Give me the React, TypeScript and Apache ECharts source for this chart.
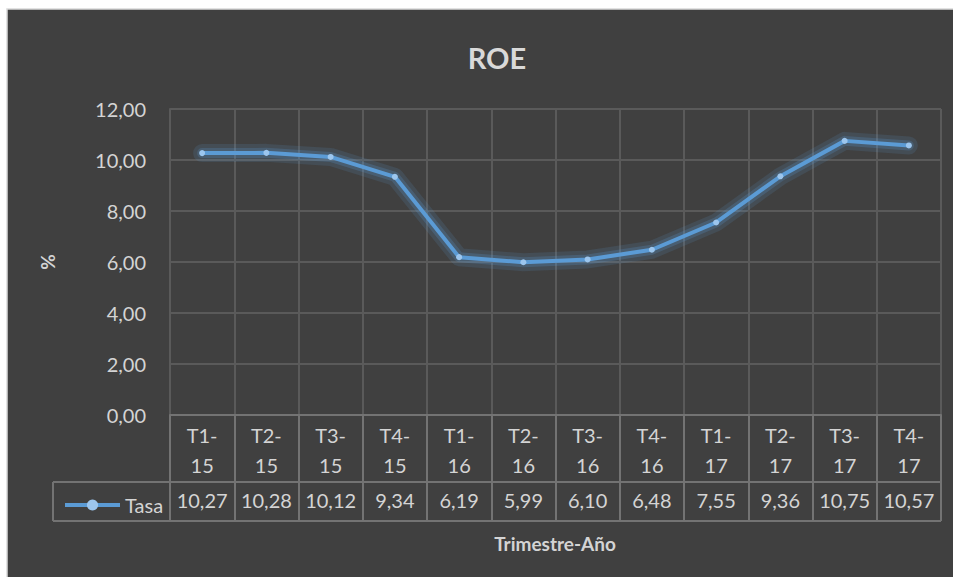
import React, { useEffect, useRef } from "react";
import * as echarts from "echarts";

const categories: string[] = ["T1-15", "T2-15", "T3-15", "T4-15", "T1-16", "T2-16", "T3-16", "T4-16", "T1-17", "T2-17", "T3-17", "T4-17"];
const seriesName = "Tasa";
const values: number[] = [10.27, 10.28, 10.12, 9.34, 6.19, 5.99, 6.1, 6.48, 7.55, 9.36, 10.75, 10.57];
const chartTitle = "ROE";
const yAxisTitle = "%";
const xAxisTitle = "Trimestre-Año";
const yMin = 0;
const yMax = 12;
const yStep = 2;

const fmt = (v: number) => v.toFixed(2).replace(".", ",");

export default function App() {
  const ref = useRef<HTMLDivElement>(null);
  useEffect(() => {
    if (!ref.current) return;
    const chart = echarts.init(ref.current, null, { renderer: "svg" });
    const font = "Lato, 'Open Sans', sans-serif";
    const txt = "#d4d4d4";
    const gridC = "#5a5a5a";
    const tableC = "#737373";
    const L = 170, R = 941, T = 109, B = 415;
    const row1 = 482, row2 = 521, legL = 53;
    const fs = 20;
    chart.setOption({
      animation: false,
      backgroundColor: "#ffffff",
      textStyle: { fontFamily: font },
      grid: { left: L, right: 953 - R, top: T, bottom: 577 - B, containLabel: false },
      legend: {
        left: 58,
        top: row1 + 8,
        itemWidth: 55,
        itemHeight: 14,
        data: [{ name: seriesName, itemStyle: { color: "#9cc6ee" } }],
        lineStyle: { width: 4, color: "#5b9bd5" },
        textStyle: { color: txt, fontSize: fs, fontFamily: font },
      },
      graphic: [
        { type: "rect", z: -10, shape: { x: 7, y: 9, width: 950, height: 572 }, style: { fill: "#404040", stroke: "#d9d9d9", lineWidth: 1.5 } },
        { type: "text", x: 497, y: 57, style: { text: chartTitle, fill: "#d9d9d9", font: `bold 29px ${font}`, textAlign: "center", textVerticalAlign: "middle" } },
        { type: "text", x: 555, y: 543, style: { text: xAxisTitle, fill: txt, font: `bold 19px ${font}`, textAlign: "center", textVerticalAlign: "middle" } },
        { type: "line", shape: { x1: legL, y1: row1, x2: R, y2: row1 }, style: { stroke: tableC, lineWidth: 2 } },
        { type: "line", shape: { x1: legL, y1: row2, x2: R, y2: row2 }, style: { stroke: tableC, lineWidth: 2 } },
        { type: "line", shape: { x1: legL, y1: row1, x2: legL, y2: row2 }, style: { stroke: tableC, lineWidth: 2 } },
      ],
      xAxis: [
        {
          type: "category",
          data: categories,
          boundaryGap: true,
          axisLine: { show: true, lineStyle: { color: tableC, width: 2 } },
          axisTick: { show: true, interval: 0, length: row2 - B, lineStyle: { color: tableC, width: 2 } },
          splitLine: { show: true, interval: 0, lineStyle: { color: gridC, width: 2 } },
          axisLabel: {
            interval: 0,
            margin: 5,
            color: txt,
            fontSize: fs,
            lineHeight: 30,
            fontFamily: font,
            formatter: (v: string) => v.replace("-", "-\n"),
          },
        },
        {
          type: "category",
          data: values.map(fmt),
          position: "bottom",
          offset: row1 - B,
          boundaryGap: true,
          axisLine: { show: false },
          axisTick: { show: false },
          splitLine: { show: false },
          axisLabel: { interval: 0, margin: 8, color: txt, fontSize: fs, fontFamily: font },
        },
      ],
      yAxis: {
        type: "value",
        min: yMin,
        max: yMax,
        interval: yStep,
        name: yAxisTitle,
        nameLocation: "middle",
        nameGap: L - 57,
        nameRotate: 90,
        nameTextStyle: { color: txt, fontSize: 19, fontWeight: "bold", fontFamily: font },
        axisLine: { show: true, lineStyle: { color: gridC, width: 2 } },
        axisTick: { show: false },
        splitLine: { show: true, lineStyle: { color: gridC, width: 2 } },
        axisLabel: { margin: 24, color: txt, fontSize: fs, fontFamily: font, formatter: (v: number) => fmt(v) },
      },
      series: [
        {
          name: "glow",
          type: "line",
          data: values,
          smooth: false,
          symbol: "none",
          silent: true,
          z: 1,
          lineStyle: { color: "rgba(91,155,213,0.14)", width: 18, join: "round", cap: "round" },
        },
        {
          name: "glow2",
          type: "line",
          data: values,
          smooth: false,
          symbol: "none",
          silent: true,
          z: 1,
          lineStyle: { color: "rgba(91,155,213,0.22)", width: 10, join: "round", cap: "round" },
        },
        {
          name: seriesName,
          type: "line",
          data: values,
          smooth: false,
          symbol: "circle",
          symbolSize: 6,
          z: 3,
          itemStyle: { color: "#9cc6ee" },
          lineStyle: { color: "#5b9bd5", width: 4, join: "round" },
        },
      ],
    });
    return () => chart.dispose();
  }, []);
  return <div ref={ref} style={{ position: "absolute", left: 0, top: 0, width: 953, height: 577 }} />;
}
